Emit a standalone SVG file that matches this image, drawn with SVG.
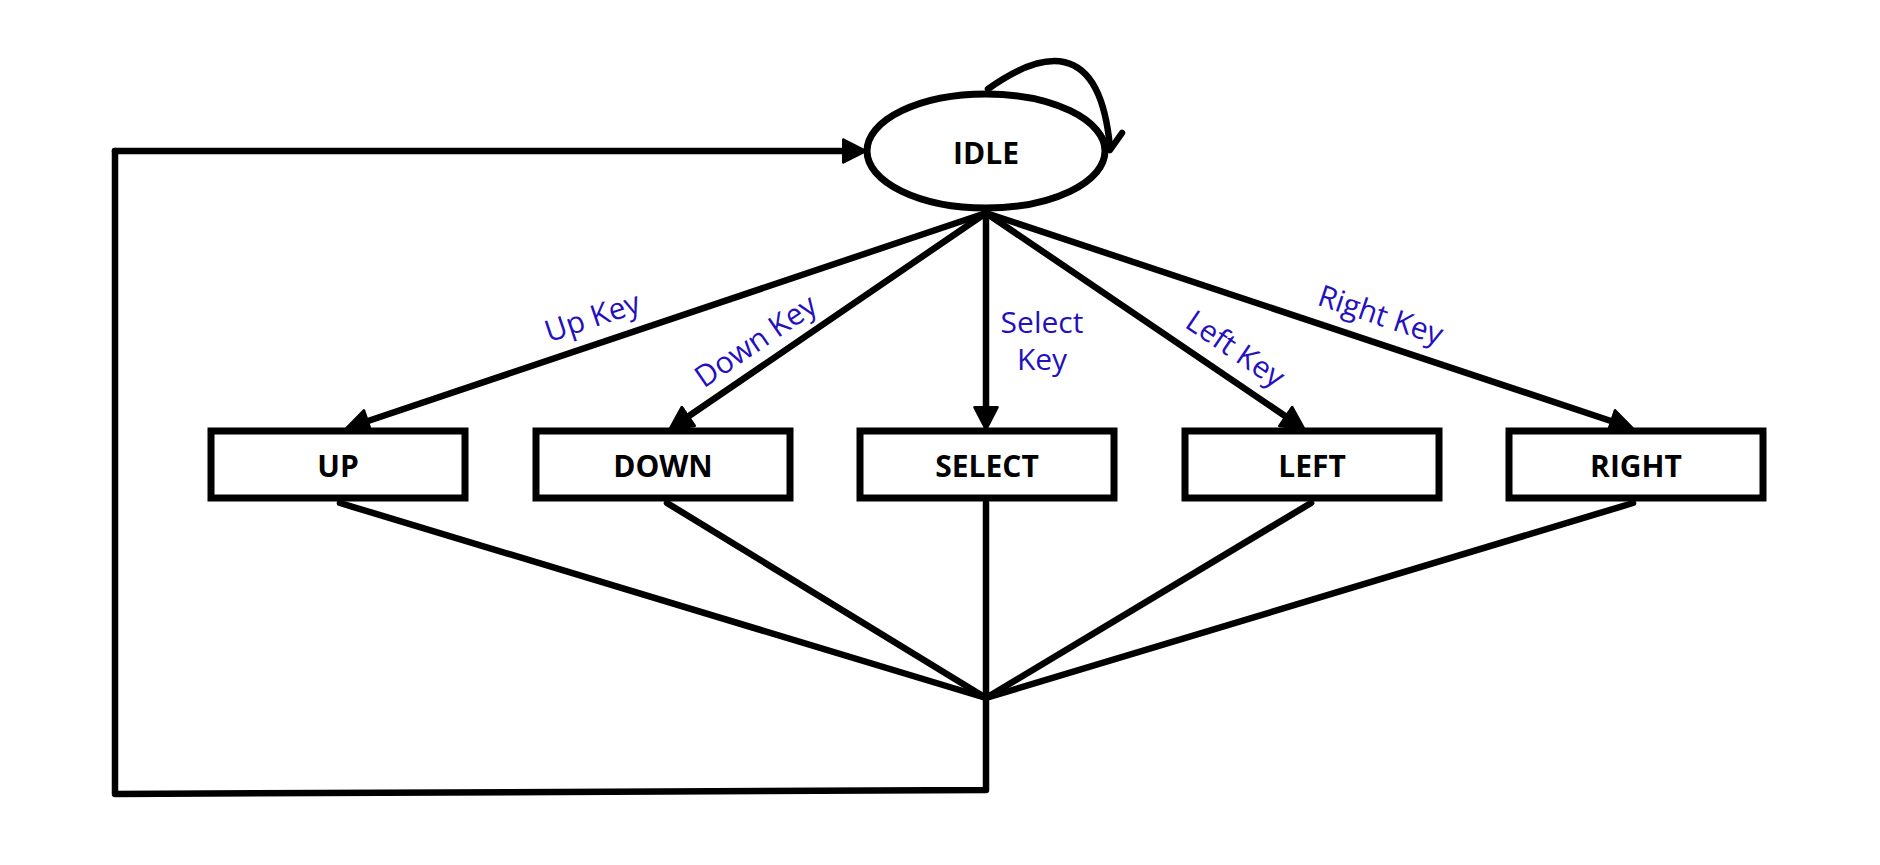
<svg xmlns="http://www.w3.org/2000/svg" width="1880" height="865" viewBox="0 0 1880 865">
<style>
.node{fill:#fff;stroke:#000;stroke-width:7}
.nl{font-family:"Open Sans","Liberation Sans",sans-serif;font-weight:bold;font-size:30px;fill:#000;text-anchor:middle;dominant-baseline:central}
.cl{font-family:"Open Sans","Liberation Sans",sans-serif;font-size:30px;fill:#2410c0;text-anchor:middle;dominant-baseline:central}
.c{fill:none;stroke:#000;stroke-width:6.5;stroke-linecap:round;stroke-linejoin:round}
.a{marker-end:url(#ah)}
</style>
<defs>
<marker id="ah" markerUnits="userSpaceOnUse" markerWidth="26" markerHeight="26" viewBox="0 0 24 24" refX="4" refY="12" orient="auto">
<path d="M1.5,1.5 L22,12 L1.5,22.5 Z" fill="#000" stroke="#000" stroke-width="2.5" stroke-linejoin="round"/>
</marker>
</defs>
<rect width="1880" height="865" fill="#fff"/>
<g id="connectors">
<path class="c a" d="M986,213 L365,422"/>
<path class="c a" d="M986,213 L686,418"/>
<path class="c a" d="M986,213 L986,410"/>
<path class="c a" d="M986,213 L1288,418"/>
<path class="c a" d="M986,213 L1614,422"/>
<path class="c" d="M340,503 L986,698"/>
<path class="c" d="M667,503 L986,698"/>
<path class="c" d="M1311,503 L986,698"/>
<path class="c" d="M1633,503 L986,698"/>
<path class="c" d="M986,503 L986,790 L115,794 L115,151"/>
<path class="c a" d="M115,151 L846,151"/>
<path class="c" d="M988,89 C1040,52 1100,35 1110,148"/>
<path class="c" d="M1099,133 L1110,150 L1122,133"/>
</g>
<g id="labels">
<text class="cl" transform="translate(592,316) rotate(-18.6)">Up Key</text>
<text class="cl" transform="translate(755,340) rotate(-34.3)">Down Key</text>
<text class="cl" x="1042" y="321">Select</text>
<text class="cl" x="1042" y="358">Key</text>
<text class="cl" transform="translate(1236,348) rotate(34.2)">Left Key</text>
<text class="cl" transform="translate(1381,314) rotate(18.4)">Right Key</text>
</g>
<g id="idle">
<ellipse class="node" cx="986" cy="151" rx="119" ry="57"/>
<text class="nl" x="986" y="152">IDLE</text>
</g>
<g id="up">
<rect class="node" x="211" y="431" width="254" height="67"/>
<text class="nl" x="338" y="465">UP</text>
</g>
<g id="down">
<rect class="node" x="536" y="431" width="254" height="67"/>
<text class="nl" x="663" y="465">DOWN</text>
</g>
<g id="select">
<rect class="node" x="860" y="431" width="254" height="67"/>
<text class="nl" x="987" y="465">SELECT</text>
</g>
<g id="left">
<rect class="node" x="1185" y="431" width="254" height="67"/>
<text class="nl" x="1312" y="465">LEFT</text>
</g>
<g id="right">
<rect class="node" x="1509" y="431" width="254" height="67"/>
<text class="nl" x="1636" y="465">RIGHT</text>
</g>
</svg>
